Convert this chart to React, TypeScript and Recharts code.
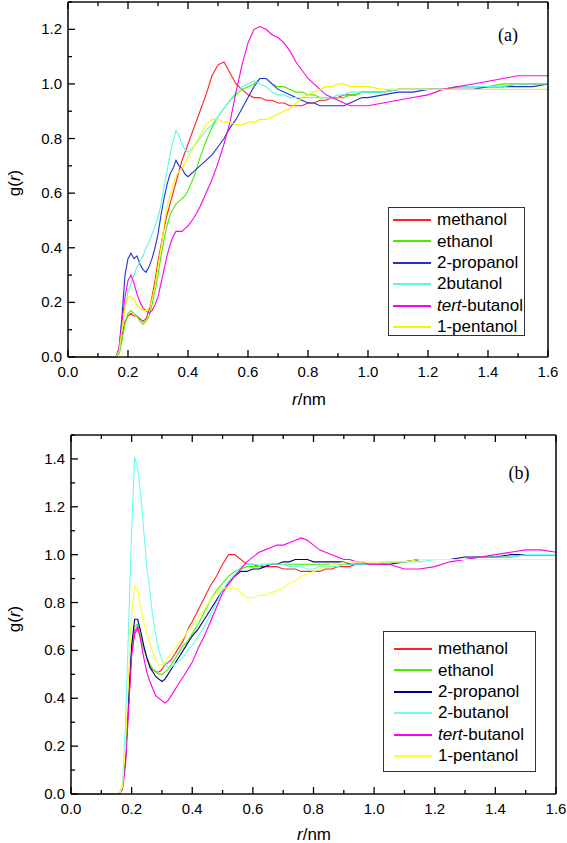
import React from 'react';
import { LineChart, Line, XAxis, YAxis, Legend } from 'recharts';

// r values (nm) shared by every curve
const rNm = [
  0, 0.16, 0.17, 0.18, 0.19, 0.2, 0.21, 0.22, 0.23, 0.24, 0.25, 0.26, 0.27, 0.28, 0.29, 0.3, 0.31, 0.32, 0.33, 0.34, 0.35, 0.36, 0.37, 0.38, 0.39, 0.4,
  0.42, 0.44, 0.46, 0.48, 0.5, 0.52, 0.54, 0.56, 0.58, 0.6, 0.62, 0.64, 0.66, 0.68, 0.7, 0.72, 0.74, 0.76, 0.78, 0.8, 0.82, 0.84, 0.86, 0.88, 0.9, 0.92, 0.94, 0.96, 0.98, 1.0,
  1.05, 1.1, 1.15, 1.2, 1.25, 1.3, 1.35, 1.4, 1.45, 1.5, 1.55, 1.6,
];

// panel (a)
const methanolA = [
  0, 0, 0.02, 0.08, 0.13, 0.15, 0.16, 0.15, 0.15, 0.14, 0.13, 0.14, 0.17, 0.22, 0.28, 0.35, 0.41, 0.47, 0.52, 0.56, 0.6, 0.64, 0.68, 0.72, 0.75, 0.78,
  0.84, 0.9, 0.96, 1.03, 1.07, 1.08, 1.04, 1.0, 0.98, 0.96, 0.95, 0.95, 0.94, 0.94, 0.93, 0.93, 0.92, 0.92, 0.92, 0.93, 0.93, 0.94, 0.94, 0.95, 0.95, 0.96, 0.96, 0.96, 0.97, 0.97,
  0.97, 0.98, 0.98, 0.98, 0.98, 0.99, 0.99, 0.99, 0.99, 1.0, 1.0, 1.0,
];
const ethanolA = [
  0, 0, 0.01, 0.06, 0.12, 0.16, 0.17, 0.16, 0.15, 0.13, 0.12, 0.13, 0.15, 0.19, 0.24, 0.3, 0.37, 0.43, 0.48, 0.52, 0.54, 0.56, 0.57, 0.58, 0.59, 0.61,
  0.66, 0.73, 0.79, 0.84, 0.88, 0.91, 0.94, 0.96, 0.98, 0.99, 1.0, 1.02, 1.02, 1.0, 0.99, 0.99, 0.98, 0.97, 0.97, 0.96, 0.96, 0.95, 0.95, 0.95, 0.95, 0.95, 0.96, 0.96, 0.97, 0.97,
  0.97, 0.98, 0.98, 0.98, 0.98, 0.99, 0.99, 0.99, 1.0, 1.0, 1.0, 1.0,
];
const propanolA = [
  0, 0, 0.03, 0.15, 0.3, 0.36, 0.38, 0.36, 0.37, 0.34, 0.32, 0.31, 0.33, 0.36, 0.4, 0.45, 0.52, 0.58, 0.63, 0.67, 0.69, 0.72, 0.7, 0.69, 0.67, 0.66,
  0.68, 0.7, 0.72, 0.74, 0.77, 0.8, 0.84, 0.87, 0.91, 0.95, 0.99, 1.02, 1.02, 1.0, 0.98, 0.97, 0.96, 0.95, 0.94, 0.93, 0.93, 0.92, 0.92, 0.92, 0.92, 0.92, 0.93, 0.94, 0.95, 0.95,
  0.96, 0.97, 0.97, 0.98, 0.98, 0.98, 0.98, 0.99, 0.99, 0.99, 0.99, 1.0,
];
const butanolA = [
  0, 0, 0.02, 0.1, 0.18, 0.24, 0.27, 0.3, 0.33, 0.35, 0.37, 0.4, 0.42, 0.45, 0.48, 0.51, 0.56, 0.62, 0.68, 0.74, 0.79, 0.83, 0.81, 0.78, 0.76, 0.75,
  0.77, 0.8, 0.83, 0.85, 0.88, 0.91, 0.94, 0.97, 0.99, 1.0, 1.01, 1.0, 0.99, 0.97, 0.96, 0.96, 0.95, 0.95, 0.95, 0.95, 0.95, 0.95, 0.95, 0.95, 0.96, 0.96, 0.97, 0.97, 0.97, 0.97,
  0.97, 0.98, 0.98, 0.98, 0.98, 0.99, 0.99, 0.99, 0.99, 1.0, 1.0, 1.0,
];
const tertA = [
  0, 0, 0.03, 0.13, 0.22, 0.28, 0.3, 0.27, 0.23, 0.2, 0.18, 0.17, 0.16, 0.17, 0.19, 0.22, 0.27, 0.32, 0.37, 0.41, 0.44, 0.46, 0.46, 0.46, 0.47, 0.48,
  0.51, 0.55, 0.6, 0.65, 0.71, 0.78, 0.86, 0.97, 1.07, 1.15, 1.2, 1.21, 1.2, 1.18, 1.17, 1.15, 1.12, 1.08, 1.05, 1.02, 1.0, 0.98, 0.96, 0.95, 0.94, 0.93, 0.92, 0.92, 0.92, 0.92,
  0.93, 0.94, 0.95, 0.96, 0.98, 0.99, 1.0, 1.01, 1.02, 1.03, 1.03, 1.03,
];
const pentanolA = [
  0, 0, 0.02, 0.1, 0.18, 0.22, 0.22, 0.21, 0.19, 0.18, 0.17, 0.17, 0.18, 0.21, 0.26, 0.33, 0.4, 0.48, 0.55, 0.59, 0.63, 0.66, 0.68, 0.69, 0.71, 0.73,
  0.77, 0.81, 0.85, 0.87, 0.87, 0.86, 0.86, 0.85, 0.85, 0.86, 0.86, 0.87, 0.87, 0.88, 0.89, 0.9, 0.91, 0.93, 0.95, 0.96, 0.97, 0.98, 0.99, 0.99, 1.0, 1.0, 0.99, 0.99, 0.99, 0.99,
  0.98, 0.98, 0.98, 0.98, 0.98, 0.98, 0.98, 0.98, 0.98, 0.98, 0.98, 0.98,
];

// panel (b)
const methanolB = [
  0, 0, 0.03, 0.15, 0.38, 0.58, 0.67, 0.69, 0.65, 0.61, 0.57, 0.54, 0.52, 0.51, 0.51, 0.52, 0.54, 0.55, 0.56, 0.58, 0.6, 0.62, 0.64, 0.67, 0.7, 0.72,
  0.77, 0.82, 0.87, 0.91, 0.96, 1.0, 1.0, 0.98, 0.96, 0.96, 0.95, 0.95, 0.95, 0.95, 0.94, 0.94, 0.94, 0.93, 0.93, 0.93, 0.93, 0.94, 0.94, 0.95, 0.95, 0.95, 0.96, 0.96, 0.96, 0.96,
  0.97, 0.97, 0.98, 0.98, 0.98, 0.98, 0.99, 0.99, 0.99, 1.0, 1.0, 1.0,
];
const ethanolB = [
  0, 0, 0.03, 0.15, 0.38, 0.6, 0.7, 0.71, 0.66, 0.61, 0.57, 0.54, 0.52, 0.51, 0.5, 0.5, 0.51, 0.52, 0.54, 0.56, 0.58, 0.6, 0.62, 0.63, 0.65, 0.67,
  0.71, 0.76, 0.81, 0.85, 0.88, 0.91, 0.93, 0.94, 0.95, 0.95, 0.95, 0.96, 0.96, 0.96, 0.96, 0.96, 0.96, 0.96, 0.96, 0.96, 0.96, 0.96, 0.96, 0.96, 0.96, 0.96, 0.96, 0.96, 0.96, 0.96,
  0.97, 0.97, 0.98, 0.98, 0.98, 0.98, 0.99, 0.99, 0.99, 1.0, 1.0, 1.0,
];
const propanolB = [
  0, 0, 0.03, 0.16, 0.4, 0.62, 0.73, 0.73, 0.68, 0.62, 0.57, 0.53, 0.51, 0.49, 0.48, 0.47, 0.48, 0.5, 0.52, 0.54, 0.56, 0.58, 0.6, 0.62, 0.64, 0.66,
  0.69, 0.73, 0.77, 0.81, 0.85, 0.88, 0.91, 0.93, 0.93, 0.94, 0.94, 0.95, 0.96, 0.96, 0.97, 0.97, 0.98, 0.98, 0.98, 0.97, 0.97, 0.97, 0.97, 0.97, 0.97, 0.96, 0.96, 0.96, 0.96, 0.96,
  0.96, 0.97, 0.98, 0.98, 0.98, 0.99, 0.99, 0.99, 1.0, 1.0, 1.0, 1.0,
];
const butanolB = [
  0, 0, 0.04, 0.3, 0.7, 1.1, 1.41, 1.36, 1.25, 1.1, 0.95, 0.85, 0.74, 0.66, 0.6, 0.56, 0.54, 0.53, 0.53, 0.54, 0.55, 0.56, 0.57, 0.59, 0.61, 0.62,
  0.66, 0.7, 0.75, 0.8, 0.85, 0.89, 0.92, 0.95, 0.96, 0.96, 0.96, 0.96, 0.96, 0.96, 0.96, 0.95, 0.95, 0.95, 0.94, 0.94, 0.95, 0.95, 0.95, 0.95, 0.96, 0.96, 0.96, 0.96, 0.96, 0.96,
  0.97, 0.97, 0.97, 0.98, 0.98, 0.98, 0.99, 0.99, 0.99, 1.0, 1.0, 1.0,
];
const tertB = [
  0, 0, 0.02, 0.12, 0.35, 0.58, 0.68, 0.7, 0.64, 0.57, 0.51, 0.47, 0.44, 0.41, 0.4, 0.39, 0.38, 0.39, 0.41, 0.43, 0.45, 0.47, 0.49, 0.51, 0.53, 0.55,
  0.61, 0.66, 0.72, 0.78, 0.84, 0.88, 0.91, 0.94, 0.97, 0.99, 1.01, 1.02, 1.03, 1.04, 1.04, 1.05, 1.06, 1.07, 1.06, 1.04, 1.02, 1.01, 1.0, 0.99, 0.98, 0.98, 0.97, 0.97, 0.96, 0.96,
  0.96, 0.94, 0.94, 0.95, 0.97, 0.98, 0.99, 1.0, 1.01, 1.02, 1.02, 1.01,
];
const pentanolB = [
  0, 0, 0.03, 0.2, 0.5, 0.75, 0.87, 0.85, 0.78, 0.72, 0.67, 0.63, 0.59, 0.56, 0.54, 0.54, 0.55, 0.57, 0.59, 0.6, 0.62, 0.64, 0.65, 0.67, 0.69, 0.7,
  0.74, 0.77, 0.81, 0.84, 0.86, 0.86, 0.86, 0.84, 0.82, 0.82, 0.83, 0.83, 0.84, 0.85, 0.86, 0.88, 0.89, 0.91, 0.92, 0.93, 0.94, 0.95, 0.96, 0.96, 0.97, 0.97, 0.97, 0.97, 0.97, 0.97,
  0.97, 0.97, 0.98, 0.98, 0.98, 0.98, 0.98, 0.98, 0.98, 0.98, 0.98, 0.98,
];

const seriesKeys = ['methanol', 'ethanol', 'propanol', 'butanol', 'tert', 'pentanol'];
const namesA = ['methanol', 'ethanol', '2-propanol', '2butanol', 'tert-butanol', '1-pentanol'];
const namesB = ['methanol', 'ethanol', '2-propanol', '2-butanol', 'tert-butanol', '1-pentanol'];
const colorsA = ['#ff2020', '#44f000', '#2233cc', '#5ff5e8', '#ff00ee', '#f5f500'];
const colorsB = ['#ff2030', '#44f000', '#000080', '#66fff0', '#ff00ee', '#ffff30'];

const xTicks = [0, 0.1, 0.2, 0.3, 0.4, 0.5, 0.6, 0.7, 0.8, 0.9, 1.0, 1.1, 1.2, 1.3, 1.4, 1.5, 1.6];
const yTicksA = [0, 0.1, 0.2, 0.3, 0.4, 0.5, 0.6, 0.7, 0.8, 0.9, 1.0, 1.1, 1.2, 1.3];
const yTicksB = [0, 0.1, 0.2, 0.3, 0.4, 0.5, 0.6, 0.7, 0.8, 0.9, 1.0, 1.1, 1.2, 1.3, 1.4, 1.5];

const FONT = "'Liberation Sans', Arial, Helvetica, sans-serif";
const SERIF = "'Liberation Serif', 'Times New Roman', serif";

const buildRows = (cols: number[][]) =>
  rNm.map((r, i) => {
    const row: any = { r };
    seriesKeys.forEach((k, j) => (row[k] = cols[j][i]));
    return row;
  });

const dataA = buildRows([methanolA, ethanolA, propanolA, butanolA, tertA, pentanolA]);
const dataB = buildRows([methanolB, ethanolB, propanolB, butanolB, tertB, pentanolB]);

const isMajor = (v: number) => Math.round(v * 10) % 2 === 0;
const MAJOR = 7;
const MINOR = 4;

const BottomTick = (p: any) => {
  const v = p.payload.value;
  return (
    <g>
      <line x1={p.x} x2={p.x} y1={p.y} y2={p.y - (isMajor(v) ? MAJOR : MINOR)} stroke="#000" strokeWidth={1.3} />
      {isMajor(v) && (
        <text x={p.x} y={p.y + 20} textAnchor="middle" fontSize={15} fontFamily={FONT} fill="#000">
          {v.toFixed(1)}
        </text>
      )}
    </g>
  );
};
const TopTick = (p: any) => {
  const v = p.payload.value;
  return <line x1={p.x} x2={p.x} y1={p.y} y2={p.y + (isMajor(v) ? MAJOR : MINOR)} stroke="#000" strokeWidth={1.3} />;
};
const LeftTick = (p: any) => {
  const v = p.payload.value;
  return (
    <g>
      <line x1={p.x} x2={p.x + (isMajor(v) ? MAJOR : MINOR)} y1={p.y} y2={p.y} stroke="#000" strokeWidth={1.3} />
      {isMajor(v) && (
        <text x={p.x - 6} y={p.y + 5} textAnchor="end" fontSize={15} fontFamily={FONT} fill="#000">
          {v.toFixed(1)}
        </text>
      )}
    </g>
  );
};
const RightTick = (p: any) => {
  const v = p.payload.value;
  return <line x1={p.x} x2={p.x - (isMajor(v) ? MAJOR : MINOR)} y1={p.y} y2={p.y} stroke="#000" strokeWidth={1.3} />;
};

const LegendLabel = ({ name }: { name: string }) =>
  name.startsWith('tert-') ? (
    <span>
      <i>tert</i>-{name.slice(5)}
    </span>
  ) : (
    <span>{name}</span>
  );

const makeLegend = (names: string[], colors: string[], w: number, h: number, padTop: number, padLeft: number) => () =>
  (
    <div
      style={{
        width: w,
        height: h,
        boxSizing: 'border-box',
        border: '1px solid #333',
        background: '#fff',
        paddingTop: padTop,
        fontFamily: FONT,
        fontSize: 17,
        color: '#000',
      }}
    >
      {names.map((n, i) => (
        <div key={n} style={{ display: 'flex', alignItems: 'center', height: 21.4, lineHeight: '21.4px' }}>
          <div style={{ width: 38, height: 2, background: colors[i], marginLeft: padLeft, marginRight: 6, flex: 'none' }} />
          <LegendLabel name={n} />
        </div>
      ))}
    </div>
  );

const axisLine = { stroke: '#111', strokeWidth: 1.6 };

type PanelProps = {
  data: any[];
  names: string[];
  colors: string[];
  yMax: number;
  yTicks: number[];
  height: number;
  margin: { top: number; right: number; bottom: number; left: number };
  yWidth: number;
  legend: { left: number; top: number; w: number; h: number; padTop: number; padLeft: number };
};

const Panel = ({ data, names, colors, yMax, yTicks, height, margin, yWidth, legend }: PanelProps) => (
  <LineChart width={567} height={height} data={data} margin={margin}>
    <XAxis dataKey="r" type="number" domain={[0, 1.6]} ticks={xTicks} interval={0} tick={BottomTick} tickSize={0} tickMargin={0} tickLine={false} height={30} axisLine={axisLine} />
    <XAxis xAxisId="top" orientation="top" dataKey="r" type="number" domain={[0, 1.6]} ticks={xTicks} interval={0} tick={TopTick} tickSize={0} tickMargin={0} tickLine={false} height={1} axisLine={axisLine} />
    <YAxis type="number" domain={[0, yMax]} ticks={yTicks} interval={0} tick={LeftTick} tickSize={0} tickMargin={0} tickLine={false} width={yWidth} axisLine={axisLine} />
    <YAxis yAxisId="right" orientation="right" type="number" domain={[0, yMax]} ticks={yTicks} interval={0} tick={RightTick} tickSize={0} tickMargin={0} tickLine={false} width={1} axisLine={axisLine} />
    {seriesKeys.map((k, i) => (
      <Line key={k} type="linear" dataKey={k} name={names[i]} stroke={colors[i]} strokeWidth={1.1} dot={false} activeDot={false} isAnimationActive={false} />
    ))}
    <Legend
      layout="horizontal"
      verticalAlign="middle"
      align="center"
      content={makeLegend(names, colors, legend.w, legend.h, legend.padTop, legend.padLeft)}
      wrapperStyle={{ position: 'absolute', left: legend.left, top: legend.top, width: legend.w, height: legend.h }}
    />
  </LineChart>
);

const centered = (left: number, top: number, extra: React.CSSProperties = {}): React.CSSProperties => ({
  position: 'absolute',
  left,
  top,
  transform: 'translate(-50%, -50%)',
  whiteSpace: 'nowrap',
  lineHeight: 1,
  ...extra,
});

const GLabel = ({ x, y }: { x: number; y: number }) => (
  <div style={centered(x, y, { transform: 'translate(-50%, -50%) rotate(-90deg)', fontFamily: FONT, fontSize: 17 })}>
    g(<i>r</i>)
  </div>
);
const RLabel = ({ x, y }: { x: number; y: number }) => (
  <div style={centered(x, y, { fontFamily: FONT, fontSize: 17 })}>
    <i>r</i>/nm
  </div>
);

export default function App() {
  return (
    <div style={{ position: 'absolute', left: 0, top: 0, width: 567, height: 843, background: '#fff', overflow: 'hidden' }}>
      <div style={{ position: 'absolute', left: 0, top: 0 }}>
        <Panel
          data={dataA}
          names={namesA}
          colors={colorsA}
          yMax={1.3}
          yTicks={yTicksA}
          height={420}
          margin={{ top: 1, right: 18, bottom: 33, left: 0 }}
          yWidth={68}
          legend={{ left: 388, top: 207, w: 137, h: 129, padTop: 1.3, padLeft: 4 }}
        />
      </div>
      <div style={{ position: 'absolute', left: 0, top: 420 }}>
        <Panel
          data={dataB}
          names={namesB}
          colors={colorsB}
          yMax={1.5}
          yTicks={yTicksB}
          height={423}
          margin={{ top: 14, right: 10, bottom: 19, left: 0 }}
          yWidth={71}
          legend={{ left: 383, top: 211, w: 153, h: 141, padTop: 6.3, padLeft: 10 }}
        />
      </div>
      <GLabel x={14} y={183} />
      <RLabel x={309} y={399} />
      <div style={centered(508, 35, { fontFamily: SERIF, fontSize: 18 })}>(a)</div>
      <GLabel x={14} y={619} />
      <RLabel x={314} y={834} />
      <div style={centered(519, 473, { fontFamily: SERIF, fontSize: 18 })}>(b)</div>
    </div>
  );
}
